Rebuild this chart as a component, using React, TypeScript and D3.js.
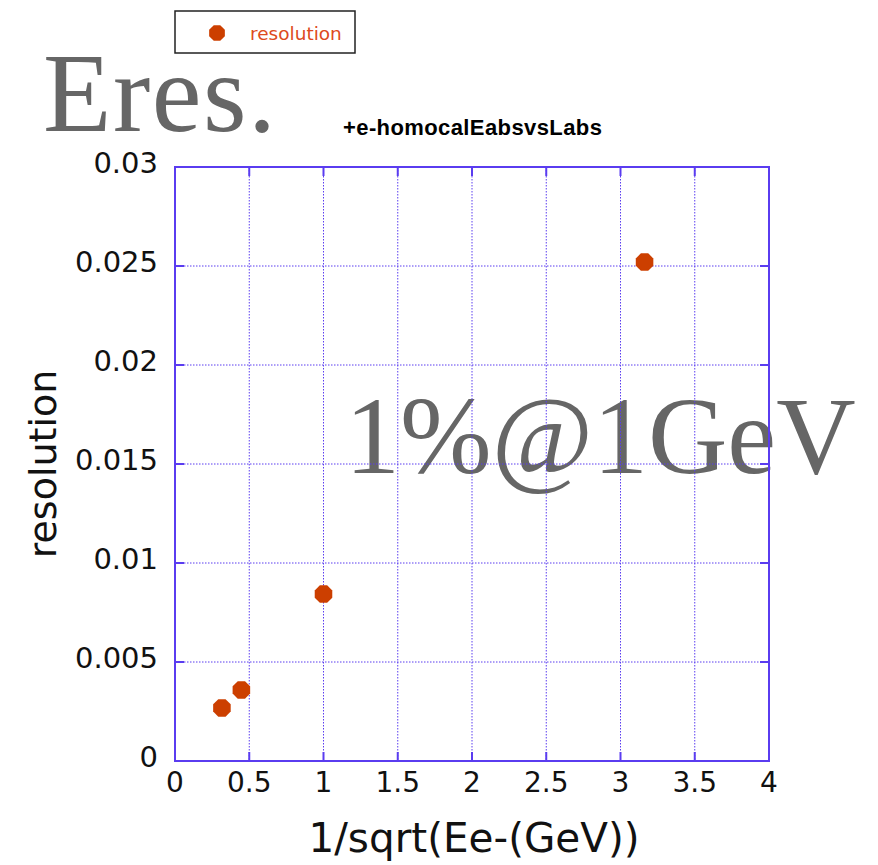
import React from "react";
import * as d3 from "d3";

// Energy resolution vs 1/sqrt(E)
const xValues = [0.316, 0.447, 1.0, 3.162];
const resolution = [0.00268, 0.00359, 0.00843, 0.0252];
const xTicks = [0, 0.5, 1, 1.5, 2, 2.5, 3, 3.5, 4];
const yTicks = [0, 0.005, 0.01, 0.015, 0.02, 0.025, 0.03];

const W = 878;
const H = 865;
const margin = { left: 175, right: 109, top: 167, bottom: 104 };
const frameColor = "#5a3cf0";
const markColor = "#cc3f00";
const sans = "DejaVu Sans, Verdana, sans-serif";

function octagon(cx: number, cy: number, r: number) {
  const pts: [number, number][] = [];
  for (let i = 0; i < 8; i++) {
    const a = Math.PI / 8 + (i * Math.PI) / 4;
    pts.push([cx + r * Math.cos(a), cy + r * Math.sin(a)]);
  }
  return pts.map((p) => p.join(",")).join(" ");
}

export default function App() {
  const x = d3.scaleLinear().domain([0, 4]).range([margin.left, W - margin.right]);
  const y = d3.scaleLinear().domain([0, 0.03]).range([H - margin.bottom, margin.top]);
  const [x0, x1] = x.range();
  const [y0, y1] = y.range();
  const fmt = (v: number) => (v === 0 ? "0" : String(+v.toFixed(3)));

  return (
    <svg width={W} height={H} style={{ position: "absolute", left: 0, top: 0, background: "#fff" }}>
      {/* annotations (under the grid) */}
      <text x={43} y={131} fontFamily="Liberation Serif, Times New Roman, serif" fontSize={112} letterSpacing={1.5} fill="#666">
        Eres.
      </text>
      <text x={345} y={473} fontFamily="Liberation Serif, Times New Roman, serif" fontSize={110} fill="#666">
        1%@1GeV
      </text>

      {/* grid */}
      {xTicks.slice(1, -1).map((t) => (
        <line key={"gx" + t} x1={x(t)} x2={x(t)} y1={y1} y2={y0} stroke={frameColor} strokeWidth={1} strokeDasharray="1.5,1.5" />
      ))}
      {yTicks.slice(1, -1).map((t) => (
        <line key={"gy" + t} x1={x0} x2={x1} y1={y(t)} y2={y(t)} stroke={frameColor} strokeWidth={1} strokeDasharray="1.5,1.5" />
      ))}
      {/* tick marks on all sides */}
      {xTicks.slice(1, -1).map((t) => (
        <g key={"tx" + t}>
          <line x1={x(t)} x2={x(t)} y1={y0} y2={y0 - 9} stroke={frameColor} strokeWidth={2} />
          <line x1={x(t)} x2={x(t)} y1={y1} y2={y1 + 9} stroke={frameColor} strokeWidth={2} />
        </g>
      ))}
      {yTicks.slice(1, -1).map((t) => (
        <g key={"ty" + t}>
          <line x1={x0} x2={x0 + 9} y1={y(t)} y2={y(t)} stroke={frameColor} strokeWidth={2} />
          <line x1={x1} x2={x1 - 9} y1={y(t)} y2={y(t)} stroke={frameColor} strokeWidth={2} />
        </g>
      ))}
      <rect x={x0} y={y1} width={x1 - x0} height={y0 - y1} fill="none" stroke={frameColor} strokeWidth={2} />

      {/* tick labels */}
      {xTicks.map((t) => (
        <text key={"lx" + t} x={x(t)} y={y0 + 31} textAnchor="middle" fontFamily={sans} fontSize={28} fill="#111">
          {fmt(t)}
        </text>
      ))}
      {yTicks.map((t) => (
        <text key={"ly" + t} x={x0 - 17} y={y(t) + 6} textAnchor="end" fontFamily={sans} fontSize={29} fill="#111">
          {fmt(t)}
        </text>
      ))}

      {/* axis titles */}
      <text x={474} y={852} textAnchor="middle" fontFamily={sans} fontSize={40.5} fill="#111">
        1/sqrt(Ee-(GeV))
      </text>
      <text transform={`translate(56,${(y0 + y1) / 2}) rotate(-90)`} textAnchor="middle" fontFamily={sans} fontSize={38} fill="#111">
        resolution
      </text>

      {/* title */}
      <text x={343} y={135} fontFamily="Liberation Sans, Arial, sans-serif" fontWeight="bold" fontSize={22} letterSpacing={0.4} fill="#000">
        +e-homocalEabsvsLabs
      </text>

      {/* data points */}
      {xValues.map((v, i) => (
        <polygon key={"p" + i} points={octagon(x(v), y(resolution[i]), 9.5)} fill={markColor} />
      ))}

      {/* legend */}
      <rect x={175} y={11} width={180} height={42} fill="#fff" stroke="#222" strokeWidth={1.5} />
      <polygon points={octagon(217, 33, 8.5)} fill={markColor} />
      <text x={250} y={40} fontFamily={sans} fontSize={18.5} fill="#dd4a20">
        resolution
      </text>
    </svg>
  );
}
